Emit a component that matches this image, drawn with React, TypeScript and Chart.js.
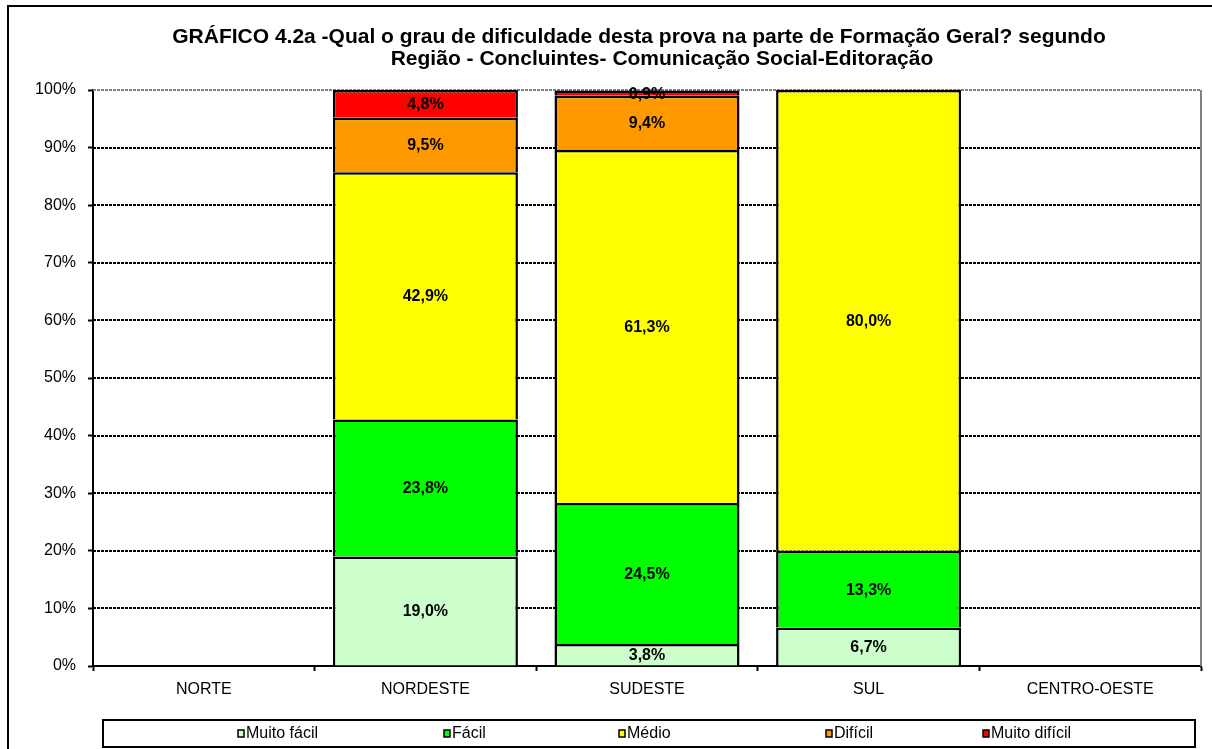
import React, { useEffect, useRef } from "react";
import { Chart, registerables } from "chart.js";

Chart.register(...registerables);

const titleLines = [
  "GRÁFICO 4.2a -Qual o grau de dificuldade desta prova na parte de Formação Geral? segundo",
  "Região - Concluintes- Comunicação Social-Editoração",
];
const categories = ["NORTE", "NORDESTE", "SUDESTE", "SUL", "CENTRO-OESTE"];
const seriesNames = ["Muito fácil", "Fácil", "Médio", "Difícil", "Muito difícil"];
const muitoFacil = [null, 19.0, 3.8, 6.7, null];
const facil = [null, 23.8, 24.5, 13.3, null];
const medio = [null, 42.9, 61.3, 80.0, null];
const dificil = [null, 9.5, 9.4, null, null];
const muitoDificil = [null, 4.8, 0.9, null, null];
const seriesColors = ["#CCFFCC", "#00FF00", "#FFFF00", "#FF9900", "#FF0000"];
const yTicks = [0, 10, 20, 30, 40, 50, 60, 70, 80, 90, 100];

const FONT = "'Liberation Sans', Arial, Helvetica, sans-serif";

const fmt = (v: number) => v.toFixed(1).replace(".", ",") + "%";

export default function App() {
  const ref = useRef<HTMLCanvasElement | null>(null);

  useEffect(() => {
    const canvas = ref.current;
    if (!canvas) return;
    const seriesData = [muitoFacil, facil, medio, dificil, muitoDificil];

    const framePlugin = {
      id: "frame",
      beforeDraw(chart: any) {
        const ctx = chart.ctx;
        ctx.save();
        ctx.fillStyle = "#ffffff";
        ctx.fillRect(0, 0, chart.width, chart.height);
        ctx.strokeStyle = "#000";
        ctx.lineWidth = 2;
        ctx.strokeRect(8, 6, chart.width + 20, chart.height + 20);
        ctx.restore();
      },
      beforeDatasetsDraw(chart: any) {
        const ctx = chart.ctx;
        const y = chart.scales.y;
        const a = chart.chartArea;
        ctx.save();
        ctx.lineWidth = 2;
        ctx.setLineDash([3, 1]);
        yTicks.forEach((t) => {
          if (t === 0) return;
          const py = Math.round(y.getPixelForValue(t));
          ctx.strokeStyle = t === 100 ? "#808080" : "#000";
          ctx.beginPath();
          ctx.moveTo(a.left, py);
          ctx.lineTo(a.right, py);
          ctx.stroke();
        });
        ctx.setLineDash([]);
        ctx.strokeStyle = "#808080";
        ctx.beginPath();
        ctx.moveTo(a.right, a.top);
        ctx.lineTo(a.right, a.bottom);
        ctx.stroke();
        ctx.restore();
      },
      afterDatasetsDraw(chart: any) {
        const ctx = chart.ctx;
        ctx.save();
        ctx.font = `bold 16px ${FONT}`;
        ctx.fillStyle = "#000";
        ctx.textAlign = "center";
        ctx.textBaseline = "middle";
        chart.data.datasets.forEach((ds: any, i: number) => {
          const meta = chart.getDatasetMeta(i);
          meta.data.forEach((bar: any, j: number) => {
            const v = ds.data[j];
            if (v == null) return;
            const p = bar.getProps(["x", "y", "base"], true);
            ctx.fillText(fmt(v), p.x, (p.y + p.base) / 2 + 1);
          });
        });
        ctx.restore();
      },
      afterDraw(chart: any) {
        const ctx = chart.ctx;
        ctx.save();
        // title
        ctx.font = `bold 21px ${FONT}`;
        ctx.fillStyle = "#000";
        ctx.textAlign = "center";
        ctx.textBaseline = "alphabetic";
        ctx.fillText(titleLines[0], 639, 43);
        ctx.fillText(titleLines[1], 662, 65);
        // legend
        ctx.strokeStyle = "#000";
        ctx.lineWidth = 2;
        ctx.strokeRect(103, 720, 1092, 27);
        const xs = [238, 444, 619, 826, 983];
        ctx.font = `16px ${FONT}`;
        ctx.textAlign = "left";
        ctx.textBaseline = "middle";
        seriesNames.forEach((name, i) => {
          const x = xs[i];
          ctx.fillStyle = seriesColors[i];
          ctx.fillRect(x, 730, 6, 7);
          ctx.lineWidth = 1.5;
          ctx.strokeStyle = "#000";
          ctx.strokeRect(x, 730, 6, 7);
          ctx.fillStyle = "#000";
          ctx.fillText(name, x + 8, 734);
        });
        ctx.restore();
      },
    };

    const chart = new Chart(canvas, {
      type: "bar",
      data: {
        labels: categories,
        datasets: seriesNames.map((name, i) => ({
          label: name,
          data: seriesData[i] as any,
          backgroundColor: seriesColors[i],
          borderColor: "#000",
          borderWidth: { top: 2.5, left: 2.5, right: 2.5, bottom: 0 } as any,
          borderSkipped: false as any,
          barPercentage: 0.835,
          categoryPercentage: 1,
        })),
      },
      options: {
        animation: false,
        responsive: false,
        devicePixelRatio: 1,
        layout: { padding: { top: 90, right: 11, bottom: 0, left: 0 } },
        plugins: {
          legend: { display: false },
          title: { display: false },
          tooltip: { enabled: false },
        },
        scales: {
          x: {
            stacked: true,
            offset: true,
            grid: {
              offset: true,
              drawOnChartArea: false,
              drawTicks: true,
              tickLength: 5,
              tickColor: "#000",
              tickWidth: 2,
            },
            border: { color: "#000", width: 2 },
            ticks: {
              color: "#000",
              font: { family: FONT, size: 16 },
              padding: 9,
              maxRotation: 0,
              autoSkip: false,
            },
            afterFit: (s: any) => {
              s.height = 83;
            },
          },
          y: {
            stacked: true,
            min: 0,
            max: 100,
            grid: {
              drawOnChartArea: false,
              drawTicks: true,
              tickLength: 5,
              tickColor: "#000",
              tickWidth: 2,
            },
            border: { color: "#000", width: 2 },
            ticks: {
              stepSize: 10,
              color: "#000",
              font: { family: FONT, size: 16 },
              padding: 12,
              callback: (v: any) => v + "%",
            },
            afterFit: (s: any) => {
              s.width = 93;
            },
          },
        },
      },
      plugins: [framePlugin],
    });
    return () => chart.destroy();
  }, []);

  return (
    <div style={{ position: "absolute", left: 0, top: 0, width: 1212, height: 749 }}>
      <canvas ref={ref} width={1212} height={749} style={{ display: "block" }} />
    </div>
  );
}
